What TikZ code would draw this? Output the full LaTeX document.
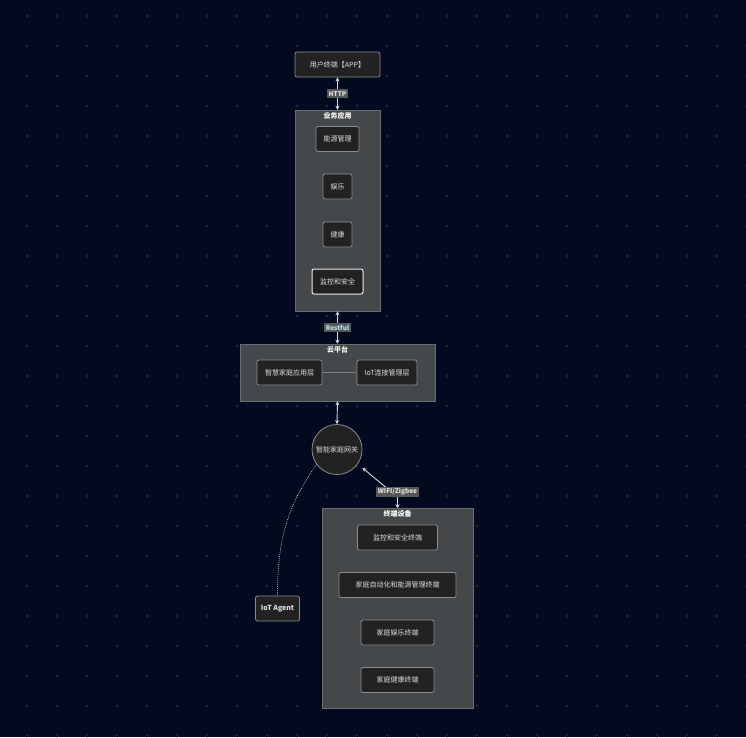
\documentclass[tikz,border=0pt]{standalone}
\usepackage{fontspec}
\setmainfont{Noto Sans CJK SC}
\usetikzlibrary{arrows.meta}
\definecolor{bg}{HTML}{030A1F}
\definecolor{dotc}{HTML}{1E2538}
\definecolor{grpfill}{HTML}{45484A}
\definecolor{boxfill}{HTML}{222222}
\definecolor{boxline}{HTML}{8C8C8C}
\definecolor{lblfill}{HTML}{575757}
\definecolor{txt}{HTML}{E2E2E2}
\definecolor{wire}{HTML}{D8D8D8}

\begin{document}
\begin{tikzpicture}[x=1pt, y=-1pt,
  box/.style={draw=boxline, line width=0.8pt, fill=boxfill, rounded corners=2pt, text=txt,
    font=\fontsize{7}{8}\selectfont, inner sep=0pt, minimum height=25pt},
  grp/.style={fill=grpfill, draw=grpfill!80!white, line width=0.5pt, inner sep=0pt},
  grptitle/.style={anchor=north, text=white, font=\bfseries\fontsize{7}{8}\selectfont, inner sep=2.5pt},
  lbl/.style={fill=lblfill, text=txt, font=\bfseries\fontsize{6.5}{7.5}\selectfont, inner sep=2pt},
  link/.style={draw=wire, line width=0.9pt, {Stealth[length=4pt,width=4pt]}-{Stealth[length=4pt,width=4pt]}}]
\fill[bg] (0,0) rectangle (746,737);
\useasboundingbox (0,0) rectangle (746,737);
\foreach \i in {0,...,24}
  \foreach \j in {0,...,24}
    \fill[dotc] (27+30*\i,16+30*\j) circle (1.7pt);

\node[box, minimum width=85pt] (app) at (337.5,64.5) {用户终端【APP】};

\node[grp, minimum width=85pt, minimum height=201pt] (biz) at (337.5,210.5) {};
\node[grptitle] (bizt) at (biz.north) {业务应用};
\node[box, minimum width=43pt] (energy) at (337.5,139) {能源管理};
\node[box, minimum width=29pt] (fun) at (337.5,186.5) {娱乐};
\node[box, minimum width=29pt] (health) at (337.5,234.5) {健康};
\node[box, draw=white!85!gray, line width=1pt, minimum width=51pt] (secure) at (337.5,281.5) {监控和安全};

\node[grp, minimum width=195pt, minimum height=57pt] (cloud) at (337.5,372.5) {};
\node[grptitle] (cloudt) at (cloud.north) {云平台};
\node[box, minimum width=65pt] (smart) at (289.5,372.5) {智慧家庭应用层};
\node[box, minimum width=60pt] (iotl) at (387,372.5) {IoT连接管理层};

\node[circle, draw=boxline, line width=0.8pt, fill=boxfill, text=txt, minimum size=50pt, inner sep=0pt,
  font=\fontsize{7}{8}\selectfont] (gw) at (337,449.5) {智能家庭网关};

\node[grp, minimum width=151pt, minimum height=200pt] (term) at (397.5,608.5) {};
\node[grptitle] (termt) at (term.north) {终端设备};
\node[box, minimum width=80pt] (t1) at (397.5,537.5) {监控和安全终端};
\node[box, minimum width=117pt] (t2) at (397.5,585) {家庭自动化和能源管理终端};
\node[box, minimum width=73pt] (t3) at (397.5,632.5) {家庭娱乐终端};
\node[box, minimum width=73pt] (t4) at (397.5,680) {家庭健康终端};

\node[box, minimum width=44pt, font=\bfseries\fontsize{7}{8}\selectfont] (agent) at (277.5,608.5) {IoT Agent};

\draw[link] (app.south) -- (biz.north) node[lbl, midway] (http) {HTTP};
\draw[link] (biz.south) -- (cloud.north) node[lbl, midway, text=cyan!30!white] (rest) {Restful};
\draw[link] (cloud.south) -- (gw.north);
\draw[draw=boxline!80!grpfill, line width=0.8pt] (smart.east) -- (iotl.west);
\coordinate (wz) at (397.5,497);
\draw[link, shorten <=6pt] (gw.-35) -- (wz) -- (term.north);
\node[lbl] (wifi) at (397.5,492) {WIFI/Zigbee};
\draw[draw=wire, line width=0.5pt, dash pattern=on 1pt off 1pt] (gw.-144) to[out=-125, in=90] (agent.north);
\end{tikzpicture}
\end{document}
